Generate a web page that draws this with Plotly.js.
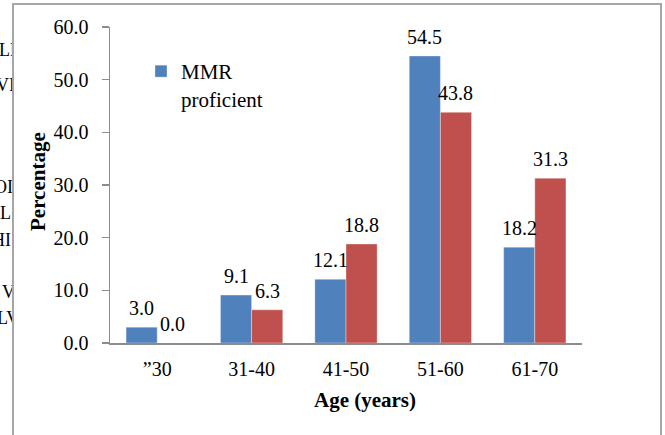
<!DOCTYPE html>
<html>
<head>
<meta charset="utf-8">
<script src="https://cdn.plot.ly/plotly-3.0.1.min.js"></script>
<style>
  html, body { margin: 0; padding: 0; background: #fff; overflow: hidden; }
  #wrap { position: relative; width: 665px; height: 435px; }
  #chart { position: absolute; left: 0; top: 0; width: 665px; height: 435px; }
  #frag { position: absolute; left: 0; top: 0; width: 12px; height: 435px; overflow: hidden;
          font-family: "Liberation Serif", "Times New Roman", serif; font-size: 18px; color: #000; }
  #frag span { position: absolute; white-space: nowrap; line-height: 1; }
</style>
</head>
<body>
<div id="wrap">
  <div id="frag"></div>
  <div id="chart"></div>
</div>
<script>
// ---- data ----
const categories = ["\u201d30", "31-40", "41-50", "51-60", "61-70"];
const proficient = [3.0, 9.1, 12.1, 54.5, 18.2];
const notProficient = [0.0, 6.3, 18.8, 43.8, 31.3];
const seriesNames = ["MMR<br>proficient", "MMR not proficient"];
const yTicks = [0, 10, 20, 30, 40, 50, 60];
const xTitle = "Age (years)";
const yTitle = "Percentage";
// fragments of surrounding page text visible at the left edge
const fragTexts = ["LF", "VI", "OI", "L", "HI", "V", "LV"];
const fragTops = [41, 76, 178, 204, 231, 283, 309];
const fragLefts = [-1, -4, -6, 0, -8, 2, -3];

const fragDiv = document.getElementById("frag");
fragTexts.forEach((t, i) => {
  const s = document.createElement("span");
  s.textContent = t;
  s.style.top = fragTops[i] + "px";
  s.style.left = fragLefts[i] + "px";
  fragDiv.appendChild(s);
});

const FONT = "'Liberation Serif', 'Times New Roman', serif";
const BLUE = "#4F81BD";
const RED = "#C0504D";
const AXIS = "#8c8c8c";

const fmt = v => v.toFixed(1);

const traces = [
  {
    type: "bar", x: categories, y: proficient, name: seriesNames[0],
    marker: { color: BLUE, line: { color: "rgba(255,255,255,0.35)", width: 1 } },
    hoverinfo: "skip", showlegend: true
  },
  {
    type: "bar", x: categories, y: notProficient, name: seriesNames[1],
    marker: { color: RED, line: { color: "rgba(255,255,255,0.35)", width: 1 } },
    hoverinfo: "skip", showlegend: false
  }
];

const L = 110, R = 582, T = 27, B = 343;
const W = 665, H = 435;
const pw = R - L, ph = B - T;
const px = x => (x - L) / pw;
const py = y => (B - y) / ph;
const BARGAP = 0.34;
const halfBar = pw / categories.length * (1 - BARGAP) / 4;

// value labels built from the data arrays
const labelAnns = [];
[proficient, notProficient].forEach((vals, si) => {
  vals.forEach((v, j) => {
    labelAnns.push({
      x: categories[j], y: v, xref: "x", yref: "y",
      xshift: si === 0 ? -halfBar : halfBar, yshift: 6,
      xanchor: "center", yanchor: "bottom",
      text: fmt(v), showarrow: false,
      font: { family: FONT, size: 20, color: "#000" }
    });
  });
});

const layout = {
  width: W, height: H,
  margin: { l: L, r: W - R, t: T, b: H - B, pad: 0 },
  paper_bgcolor: "rgba(0,0,0,0)",
  plot_bgcolor: "rgba(0,0,0,0)",
  font: { family: FONT, size: 20, color: "#000" },
  barmode: "group",
  bargap: BARGAP,
  bargroupgap: 0,
  showlegend: true,
  legend: {
    x: px(141), y: py(51), xanchor: "left", yanchor: "top",
    bgcolor: "rgba(0,0,0,0)", borderwidth: 0,
    font: { family: FONT, size: 21, color: "#000" },
    valign: "top", itemwidth: 30, tracegroupgap: 0
  },
  xaxis: {
    type: "category",
    showline: true, linecolor: AXIS, linewidth: 1.5,
    ticks: "", showgrid: false, zeroline: false,
    ticklabelstandoff: 7,
    tickfont: { family: FONT, size: 20, color: "#000" },
    fixedrange: true
  },
  yaxis: {
    range: [0, 60], tickvals: yTicks, tickformat: ".1f",
    showline: true, linecolor: AXIS, linewidth: 1.5,
    ticks: "outside", ticklen: 7, tickcolor: AXIS, tickwidth: 1.5,
    showgrid: false, zeroline: false,
    ticklabelstandoff: 9,
    tickfont: { family: FONT, size: 20, color: "#000" },
    fixedrange: true
  },
  annotations: labelAnns.concat([
    { xref: "paper", yref: "paper", x: px(365), y: py(400), xanchor: "center", yanchor: "middle",
      text: "<b>" + xTitle + "</b>", showarrow: false, font: { family: FONT, size: 21, color: "#000" } },
    { xref: "paper", yref: "paper", x: px(38), y: py(182), xanchor: "center", yanchor: "middle",
      text: "<b>" + yTitle + "</b>", textangle: -90, showarrow: false,
      font: { family: FONT, size: 21, color: "#000" } }
  ]),
  shapes: [
    { type: "rect", xref: "paper", yref: "paper", layer: "below",
      x0: px(13), x1: px(661), y0: py(445), y1: py(4),
      line: { color: "#a6a6a6", width: 2 }, fillcolor: "rgba(0,0,0,0)" }
  ]
};

Plotly.newPlot("chart", traces, layout, { staticPlot: true, displayModeBar: false });
</script>
</body>
</html>
